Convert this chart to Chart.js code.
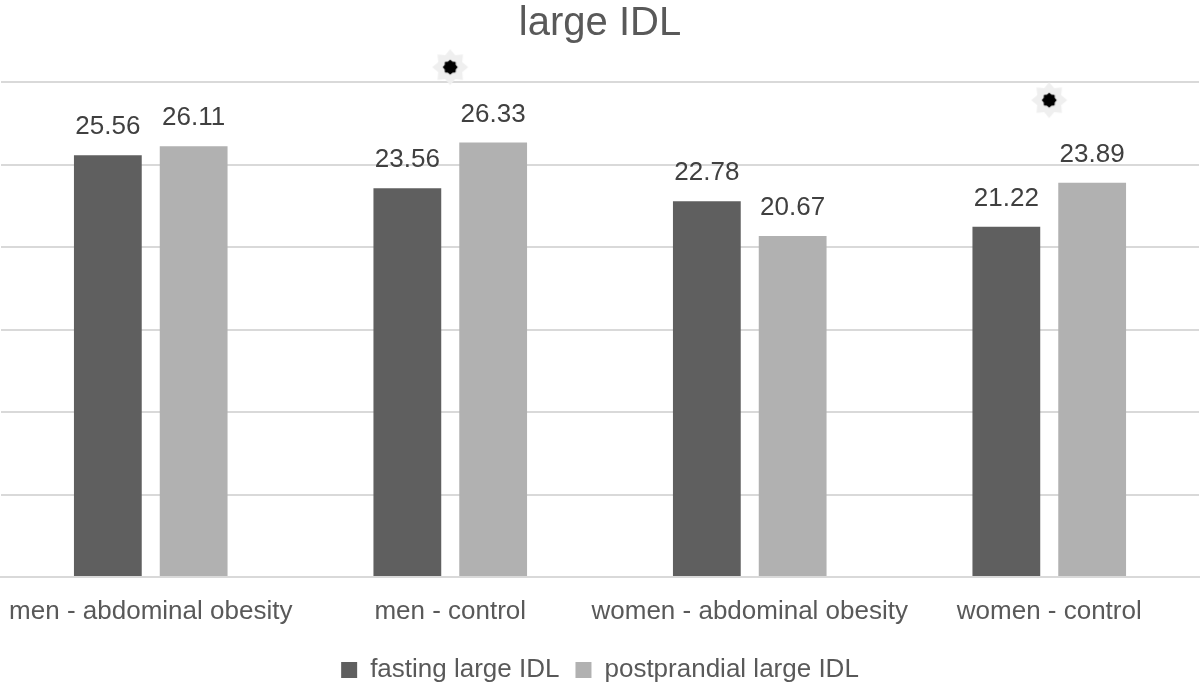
<!DOCTYPE html>
<html>
<head>
<meta charset="utf-8">
<script src="https://cdn.jsdelivr.net/npm/chart.js@4/dist/chart.umd.min.js"></script>
<style>
  html, body { margin: 0; padding: 0; background: #fff; }
  #wrap { width: 1200px; height: 683px; }
</style>
</head>
<body>
<div id="wrap"><canvas id="c"></canvas></div>
<script>
// values
const groups = ['men - abdominal obesity', 'men - control', 'women - abdominal obesity', 'women - control'];
const fasting = [25.56, 23.56, 22.78, 21.22];
const postprandial = [26.11, 26.33, 20.67, 23.89];
// significance markers (star), placed above the groups
const markers = [null, 30.9, null, 28.9];

const FONT = '"Liberation Sans", Arial, sans-serif';

// star marker image: grey 8-point glow with black centre
function makeStar() {
  const s = 38, c = document.createElement('canvas');
  c.width = s; c.height = s;
  const g = c.getContext('2d');
  function star(ro, ri, fill) {
    g.beginPath();
    for (let i = 0; i < 16; i++) {
      const a = -Math.PI / 2 + i * Math.PI / 8;
      const r = i % 2 ? ri : ro;
      g.lineTo(s / 2 + r * Math.cos(a), s / 2 + r * Math.sin(a));
    }
    g.closePath();
    g.fillStyle = fill;
    g.fill();
  }
  star(18, 13, '#efefef');
  star(7.5, 6, '#000000');
  return c;
}

// value labels above the bars
const barLabels = {
  id: 'barLabels',
  afterDatasetsDraw(chart) {
    const ctx = chart.ctx;
    ctx.save();
    ctx.font = '26px ' + FONT;
    ctx.fillStyle = '#404040';
    ctx.textAlign = 'center';
    ctx.textBaseline = 'middle';
    [1, 2].forEach(di => {
      const meta = chart.getDatasetMeta(di);
      meta.data.forEach((bar, i) => {
        const v = chart.data.datasets[di].data[i];
        if (v == null) return;
        ctx.fillText(v.toFixed(2), bar.x, bar.y - 28);
      });
    });
    ctx.restore();
  }
};

new Chart(document.getElementById('c'), {
  type: 'bar',
  data: {
    labels: groups,
    datasets: [
      {
        type: 'line',
        label: 'marker',
        data: markers,
        showLine: false,
        pointStyle: makeStar(),
        pointRadius: 1,
        pointHoverRadius: 0,
        pointBorderWidth: 0,
        borderWidth: 0,
        clip: false,
        order: 0
      },
      {
        label: 'fasting large IDL',
        data: fasting,
        backgroundColor: '#5f5f5f',
        categoryPercentage: 0.573,
        barPercentage: 0.79,
        order: 1
      },
      {
        label: 'postprandial large IDL',
        data: postprandial,
        backgroundColor: '#b1b1b1',
        categoryPercentage: 0.573,
        barPercentage: 0.79,
        order: 1
      }
    ]
  },
  options: {
    responsive: true,
    maintainAspectRatio: false,
    animation: false,
    layout: { padding: { left: 0, right: 0, top: 0, bottom: -10 } },
    plugins: {
      title: {
        display: true,
        text: 'large IDL',
        color: '#595959',
        font: { family: FONT, size: 40, weight: 'normal' },
        padding: { top: 0, bottom: 1 }
      },
      legend: {
        position: 'bottom',
        labels: {
          filter: item => item.datasetIndex !== 0,
          color: '#595959',
          font: { family: FONT, size: 26 },
          boxWidth: 16,
          boxHeight: 16,
          padding: 16
        }
      },
      tooltip: { enabled: false }
    },
    scales: {
      x: {
        grid: { display: false },
        border: { color: '#d9d9d9', width: 2 },
        ticks: {
          color: '#595959',
          font: { family: FONT, size: 26 },
          padding: 11,
          maxRotation: 0,
          autoSkip: false
        },
        afterFit(scale) {
          scale.paddingLeft = 0;
          scale.paddingRight = 0;
          scale.height = 64;
        }
      },
      y: {
        min: 0,
        max: 32,
        ticks: { display: false, stepSize: 5 },
        border: { display: false },
        grid: {
          color: c => (c.tick && c.tick.value > 30 ? 'rgba(0,0,0,0)' : '#d9d9d9'),
          lineWidth: 2,
          drawTicks: false
        }
      }
    }
  },
  plugins: [barLabels]
});
</script>
</body>
</html>
